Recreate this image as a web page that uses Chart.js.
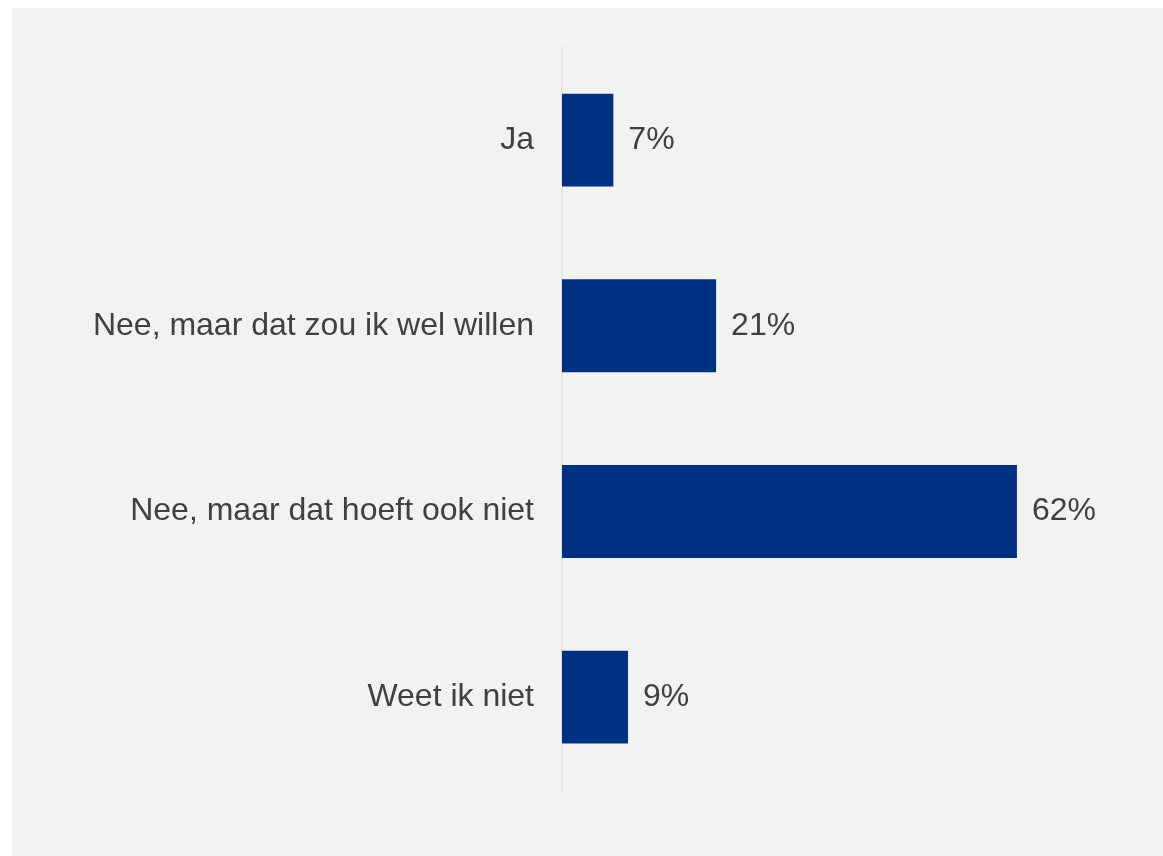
<!DOCTYPE html>
<html>
<head>
<meta charset="utf-8">
<script src="https://cdn.jsdelivr.net/npm/chart.js@4"></script>
<style>
  html, body { margin: 0; padding: 0; background: #ffffff; }
  #wrap { width: 1163px; height: 856px; position: relative; }
</style>
</head>
<body>
<div id="wrap"><canvas id="chart" width="1163" height="856"></canvas></div>
<script>
let categories = ['Ja', 'Nee, maar dat zou ik wel willen', 'Nee, maar dat hoeft ook niet', 'Weet ik niet'];
let percentages = [7, 21, 62, 9];


// grey panel behind the chart
const panelBackground = {
    id: 'panelBackground',
    beforeDraw(chart) {
        const ctx = chart.ctx;
        ctx.save();
        ctx.fillStyle = '#f2f2f2';
        ctx.fillRect(12, 8, chart.width - 12, chart.height - 8);
        ctx.restore();
    }
};


// percentage labels right of the bars
const valueLabels = {
    id: 'valueLabels',
    afterDatasetsDraw(chart) {
        const ctx = chart.ctx;
        const meta = chart.getDatasetMeta(0);
        ctx.save();
        ctx.font = '32px "Liberation Sans", Arial, sans-serif';
        ctx.fillStyle = '#404040';
        ctx.textAlign = 'left';
        ctx.textBaseline = 'middle';
        meta.data.forEach((bar, i) => {
            ctx.fillText(percentages[i] + '%', bar.x + 15, bar.y);
        });
        ctx.restore();
    }
};


const ctx = document.getElementById('chart');
new Chart(ctx, {
    type: 'bar',
    data: {
        labels: categories,
        datasets: [{
            data: percentages,
            backgroundColor: '#003082',
            categoryPercentage: 1,
            barPercentage: 0.5
        }]
    },
    options: {
        indexAxis: 'y',
        responsive: false,
        animation: false,
        layout: {
            padding: { left: 0, right: 14, top: 47, bottom: 66 }
        },
        plugins: {
            legend: { display: false },
            tooltip: { enabled: false }
        },
        scales: {
            x: {
                display: false,
                min: 0,
                max: 80
            },
            y: {
                afterFit(scale) {
                    scale.width = 562;
                },
                grid: { display: false, drawTicks: false },
                border: { display: true, color: '#e6e6e6', width: 2 },
                ticks: {
                    padding: 28,
                    color: '#404040',
                    font: { family: '"Liberation Sans", Arial, sans-serif', size: 32 }
                }
            }
        }
    },
    plugins: [panelBackground, valueLabels]
});
</script>
</body>
</html>
